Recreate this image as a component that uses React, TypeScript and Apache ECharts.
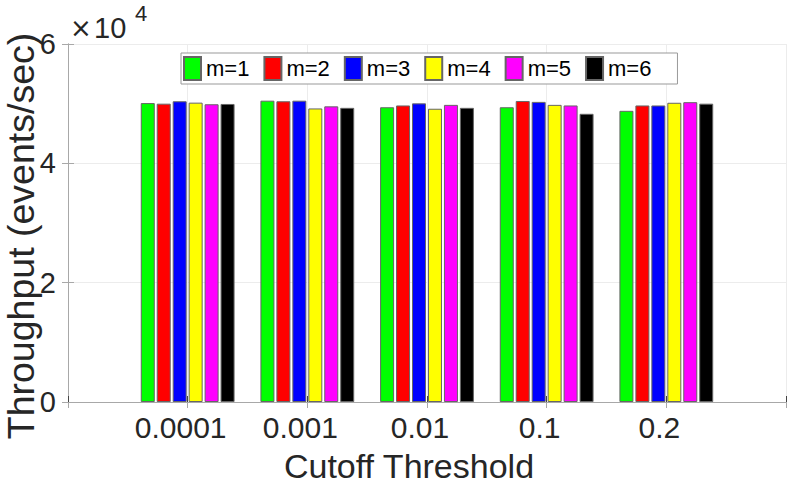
import React, { useEffect, useRef } from "react";
import * as echarts from "echarts";

const categories = ["0.0001", "0.001", "0.01", "0.1", "0.2"];
const seriesNames = ["m=1", "m=2", "m=3", "m=4", "m=5", "m=6"];
const m1 = [50100, 50500, 49400, 49400, 48800];
const m2 = [50000, 50400, 49700, 50450, 49700];
const m3 = [50400, 50500, 50050, 50300, 49700];
const m4 = [50170, 49200, 49150, 49800, 50150];
const m5 = [49900, 49550, 49800, 49700, 50250];
const m6 = [49950, 49300, 49300, 48300, 50000];
const yTicks = [0, 20000, 40000, 60000];
const colors = ["#00ff00", "#ff0000", "#0000ff", "#ffff00", "#ff00ff", "#000000"];

const FONT = "Liberation Sans";
const TXT = "#262626";

export default function App() {
  const ref = useRef<HTMLDivElement>(null);
  useEffect(() => {
    if (!ref.current) return;
    const chart = echarts.init(ref.current, undefined, { renderer: "svg" });
    const all = [m1, m2, m3, m4, m5, m6];
    const series = all.map((vals, i) => ({
      name: seriesNames[i],
      type: "bar",
      xAxisIndex: 0,
      yAxisIndex: 0,
      barWidth: 14,
      barGap: "14%",
      data: vals.map((v, j) => [j + 1, v]),
      itemStyle: { color: colors[i], borderColor: "#666", borderWidth: 1 },
    }));
    chart.setOption({
      animation: false,
      textStyle: { fontFamily: FONT },
      grid: { left: 68, right: 2, top: 44, bottom: 83, containLabel: false },
      legend: {
        data: seriesNames,
        left: 181,
        top: 53,
        orient: "horizontal",
        itemWidth: 17,
        itemHeight: 23,
        itemGap: 14,
        padding: [3, 26, 3, 2],
        borderColor: "#999",
        borderWidth: 1,
        backgroundColor: "#fff",
        textStyle: { fontSize: 22, color: "#000", fontFamily: FONT },
        icon: "rect",
      },
      xAxis: [
        {
          type: "value",
          min: 0,
          max: categories.length + 1,
          interval: 1,
          position: "bottom",
          axisLine: { show: true, lineStyle: { color: "#444", width: 1 } },
          axisTick: { show: true, inside: true, length: 6, lineStyle: { color: "#444" } },
          splitLine: { show: true, lineStyle: { color: "#ececec", width: 1 } },
          axisLabel: {
            fontSize: 30,
            color: TXT,
            margin: 10,
            padding: [0, 14, 0, 0],
            fontFamily: FONT,
            formatter: (v: number) => categories[v - 1] ?? "",
          },
        },
        {
          type: "value",
          min: 0,
          max: categories.length + 1,
          interval: 1,
          position: "top",
          axisLine: { show: true, lineStyle: { color: "#a8a8a8", width: 1 } },
          axisTick: { show: true, inside: true, length: 6, lineStyle: { color: "#a8a8a8" } },
          splitLine: { show: false },
          axisLabel: { show: false },
        },
      ],
      yAxis: [
        {
          type: "value",
          min: yTicks[0],
          max: yTicks[yTicks.length - 1],
          interval: 20000,
          position: "left",
          axisLine: { show: true, lineStyle: { color: "#a8a8a8", width: 1 } },
          axisTick: { show: true, inside: true, length: 6, lineStyle: { color: "#a8a8a8" } },
          splitLine: { show: true, lineStyle: { color: "#ececec", width: 1 } },
          axisLabel: {
            fontSize: 29,
            color: TXT,
            margin: 12,
            fontFamily: FONT,
            formatter: (v: number) => String(v / 10000),
          },
        },
        {
          type: "value",
          min: yTicks[0],
          max: yTicks[yTicks.length - 1],
          interval: 20000,
          position: "right",
          axisLine: { show: true, lineStyle: { color: "#a8a8a8", width: 1 } },
          axisTick: { show: true, inside: true, length: 6, lineStyle: { color: "#a8a8a8" } },
          splitLine: { show: false },
          axisLabel: { show: false },
        },
      ],
      graphic: [
        {
          type: "text",
          x: 409,
          y: 466,
          style: {
            text: "Cutoff Threshold",
            fontSize: 34,
            fontFamily: FONT,
            fill: TXT,
            align: "center",
            verticalAlign: "middle",
          },
        },
        {
          type: "text",
          x: 21,
          y: 236,
          rotation: Math.PI / 2,
          style: {
            text: "Throughput (events/sec)",
            fontSize: 37.5,
            fontFamily: FONT,
            fill: TXT,
            align: "center",
            verticalAlign: "middle",
          },
        },
        {
          type: "text",
          x: 70,
          y: 28,
          style: {
            text: "×",
            fontSize: 26,
            fontFamily: "DejaVu Sans",
            fill: TXT,
            align: "left",
            verticalAlign: "middle",
          },
        },
        {
          type: "text",
          x: 94,
          y: 28,
          style: {
            text: "10",
            fontSize: 29,
            fontFamily: FONT,
            fill: TXT,
            align: "left",
            verticalAlign: "middle",
          },
        },
        {
          type: "text",
          x: 135,
          y: 13,
          style: {
            text: "4",
            fontSize: 22,
            fontFamily: FONT,
            fill: TXT,
            align: "left",
            verticalAlign: "middle",
          },
        },
      ],
      series,
    });
    return () => chart.dispose();
  }, []);
  return (
    <div
      ref={ref}
      style={{ position: "absolute", left: 0, top: 0, width: 789, height: 485, background: "#fff" }}
    />
  );
}
